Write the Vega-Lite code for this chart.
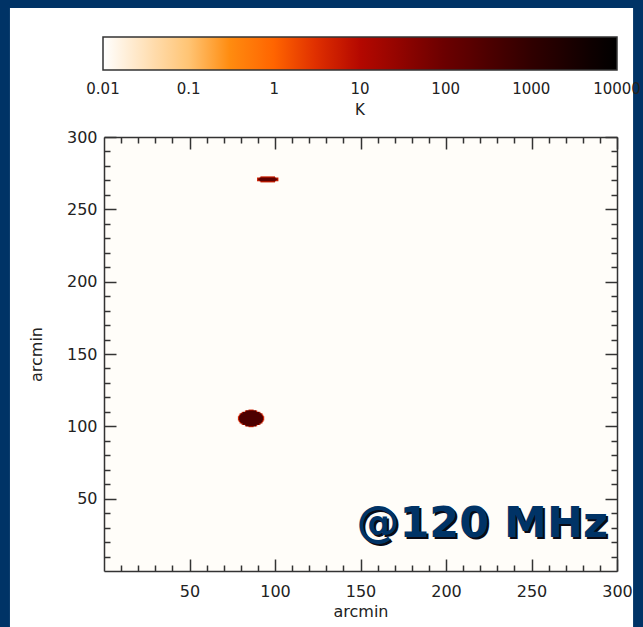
{
  "$schema": "https://vega.github.io/schema/vega-lite/v6.json",
  "width": 513,
  "height": 434,
  "autosize": {"type": "none"},
  "padding": {"left": 104, "top": 137, "right": 26, "bottom": 56},
  "background": "#003366",
  "config": {"view": {"stroke": null}, "font": "DejaVu Sans"},
  "datasets": {
    "cells": [
      {"x": 0, "x2": 300, "y": 0, "y2": 300, "T": 0.011},
      {"x": 84.5, "x2": 87.5, "y": 99.4, "y2": 111.6, "T": 5},
      {"x": 82.4, "x2": 89.6, "y": 100, "y2": 111, "T": 5},
      {"x": 80.5, "x2": 91.5, "y": 101, "y2": 110, "T": 5},
      {"x": 79.3, "x2": 92.7, "y": 102, "y2": 109, "T": 5},
      {"x": 78.8, "x2": 93.2, "y": 103, "y2": 108, "T": 5},
      {"x": 78.3, "x2": 93.7, "y": 104, "y2": 107, "T": 5},
      {"x": 83.1, "x2": 88.9, "y": 100, "y2": 111, "T": 300},
      {"x": 81.2, "x2": 90.8, "y": 101, "y2": 110, "T": 300},
      {"x": 80, "x2": 92, "y": 102, "y2": 109, "T": 300},
      {"x": 79.5, "x2": 92.5, "y": 103, "y2": 108, "T": 300},
      {"x": 79, "x2": 93, "y": 104, "y2": 107, "T": 300},
      {"x": 91.5, "x2": 100, "y": 268.6, "y2": 272.8, "T": 5},
      {"x": 89.5, "x2": 102, "y": 269.4, "y2": 272, "T": 5},
      {"x": 91, "x2": 100.4, "y": 269.4, "y2": 272, "T": 150},
      {"x": 90.2, "x2": 101.4, "y": 270.2, "y2": 271.3, "T": 150}
    ],
    "one": [{}]
  },
  "resolve": {"axis": {"x": "independent", "y": "independent"}},
  "layer": [
    {
      "data": {"name": "one"},
      "mark": {"type": "rect", "fill": "white", "clip": false},
      "encoding": {
        "x": {"datum": -55, "type": "quantitative", "axis": null, "scale": {"domain": [0, 300], "nice": false, "zero": false}},
        "x2": {"datum": 309.4},
        "y": {"datum": -45, "type": "quantitative", "axis": null, "scale": {"domain": [0, 300], "nice": false, "zero": false}},
        "y2": {"datum": 389.2}
      }
    },
    {
      "data": {"name": "cells"},
      "mark": {"type": "rect"},
      "encoding": {
        "x": {"field": "x", "type": "quantitative", "scale": {"domain": [0, 300], "nice": false, "zero": false},
          "axis": {"orient": "bottom", "title": "arcmin", "values": [10,20,30,40,50,60,70,80,90,100,110,120,130,140,150,160,170,180,190,200,210,220,230,240,250,260,270,280,290,300],
            "labelExpr": "datum.value % 50 === 0 ? datum.label : ''", "grid": false, "zindex": 1,
            "tickSize": {"condition": {"test": "datum.value % 50 === 0", "value": -12}, "value": -6},
            "tickColor": "#333", "tickWidth": 1.5, "domainColor": "#333", "domainWidth": 1.5,
            "labelFontSize": 16, "labelColor": "#222", "labelPadding": 24, "labelFlush": false,
            "titleFontSize": 16, "titleFontWeight": "normal", "titleColor": "#222", "titlePadding": 4}},
        "x2": {"field": "x2"},
        "y": {"field": "y", "type": "quantitative", "scale": {"domain": [0, 300], "nice": false, "zero": false},
          "axis": {"orient": "left", "title": "arcmin", "values": [10,20,30,40,50,60,70,80,90,100,110,120,130,140,150,160,170,180,190,200,210,220,230,240,250,260,270,280,290,300],
            "labelExpr": "datum.value % 50 === 0 ? datum.label : ''", "grid": false, "zindex": 1,
            "tickSize": {"condition": {"test": "datum.value % 50 === 0", "value": -12}, "value": -6},
            "tickColor": "#333", "tickWidth": 1.5, "domainColor": "#333", "domainWidth": 1.5,
            "labelFontSize": 16, "labelColor": "#222", "labelPadding": 19, "labelFlush": false,
            "titleFontSize": 16, "titleFontWeight": "normal", "titleColor": "#222", "titlePadding": 22}},
        "y2": {"field": "y2"},
        "color": {"field": "T", "type": "quantitative",
          "scale": {"type": "log", "domain": [0.01, 0.1, 0.3, 1, 3, 10, 100, 1000, 10000],
            "range": ["#ffffff", "#ffc474", "#ff8c10", "#ff6400", "#e03000", "#b40800", "#6a0000", "#300000", "#000000"], "interpolate": "rgb"},
          "legend": {"orient": "none", "legendX": -1, "legendY": -100, "direction": "horizontal", "padding": 0,
            "gradientLength": 514, "gradientThickness": 33, "gradientStrokeColor": "#333", "gradientStrokeWidth": 1.5,
            "values": [0.01, 0.1, 1, 10, 100, 1000, 10000], "format": "~g", "labelAlign": "center",
            "labelFontSize": 15, "labelColor": "#222", "labelOffset": 12, "labelOverlap": false,
            "title": "K", "titleOrient": "bottom", "titleAnchor": "middle", "titleFontSize": 15, "titleFontWeight": "normal", "titleColor": "#222", "titlePadding": 6,
            "encode": {"labels": {"update": {"align": {"value": "center"}}}}}}
      }
    },
    {
      "data": {"name": "cells"},
      "mark": {"type": "rect", "opacity": 0},
      "encoding": {
        "x": {"field": "x", "type": "quantitative", "scale": {"domain": [0, 300], "nice": false, "zero": false},
          "axis": {"orient": "top", "title": null, "labels": false, "values": [10,20,30,40,50,60,70,80,90,100,110,120,130,140,150,160,170,180,190,200,210,220,230,240,250,260,270,280,290,300],
            "grid": false, "zindex": 1,
            "tickSize": {"condition": {"test": "datum.value % 50 === 0", "value": -12}, "value": -6},
            "tickColor": "#333", "tickWidth": 1.5, "domainColor": "#333", "domainWidth": 1.5}},
        "x2": {"field": "x2"},
        "y": {"field": "y", "type": "quantitative", "scale": {"domain": [0, 300], "nice": false, "zero": false},
          "axis": {"orient": "right", "title": null, "labels": false, "values": [10,20,30,40,50,60,70,80,90,100,110,120,130,140,150,160,170,180,190,200,210,220,230,240,250,260,270,280,290,300],
            "grid": false, "zindex": 1,
            "tickSize": {"condition": {"test": "datum.value % 50 === 0", "value": -12}, "value": -6},
            "tickColor": "#333", "tickWidth": 1.5, "domainColor": "#333", "domainWidth": 1.5}},
        "y2": {"field": "y2"}
      }
    },
    {
      "data": {"name": "one"},
      "mark": {"type": "text", "text": "@120 MHz", "font": "DejaVu Sans", "fontWeight": "bold", "fontSize": 43, "align": "right", "baseline": "alphabetic", "fill": "#0a0a14", "dx": 2, "dy": 2},
      "encoding": {
        "x": {"datum": 294.7, "type": "quantitative", "axis": null, "scale": {"domain": [0, 300], "nice": false, "zero": false}},
        "y": {"datum": 23.5, "type": "quantitative", "axis": null, "scale": {"domain": [0, 300], "nice": false, "zero": false}}
      }
    },
    {
      "data": {"name": "one"},
      "mark": {"type": "text", "text": "@120 MHz", "font": "DejaVu Sans", "fontWeight": "bold", "fontSize": 43, "align": "right", "baseline": "alphabetic", "fill": "#003366"},
      "encoding": {
        "x": {"datum": 294.7, "type": "quantitative", "axis": null, "scale": {"domain": [0, 300], "nice": false, "zero": false}},
        "y": {"datum": 23.5, "type": "quantitative", "axis": null, "scale": {"domain": [0, 300], "nice": false, "zero": false}}
      }
    }
  ]
}
